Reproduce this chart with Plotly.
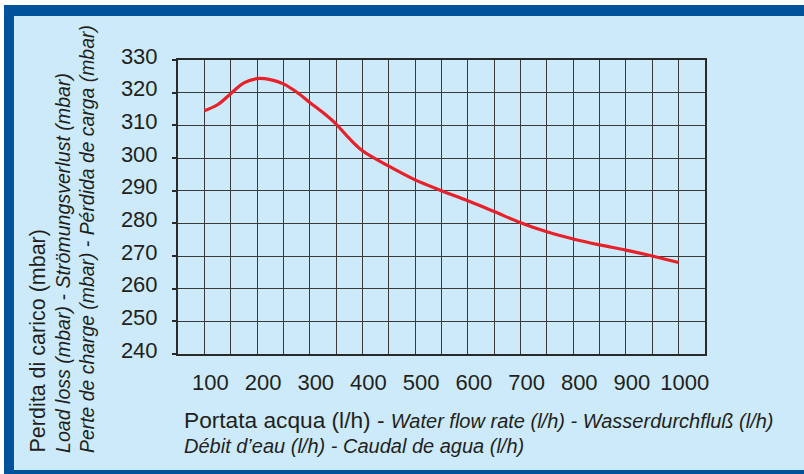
import plotly.graph_objects as go

# ---- data ----
flow = [100, 125, 150, 175, 200, 225, 250, 275, 300, 325, 350, 375, 400, 450, 500, 550, 600, 650,
        700, 750, 800, 850, 900, 950, 1000]
loss = [314.5, 316.3, 319.7, 323.0, 324.3, 324.0, 322.7, 320.2, 317.0, 313.9, 310.4, 306.0, 302.2,
        297.5, 293.3, 290.0, 286.9, 283.6, 280.2, 277.4, 275.2, 273.4, 271.8, 270.0, 268.0]
x_ticks = [100, 200, 300, 400, 500, 600, 700, 800, 900, 1000]
y_ticks = [240, 250, 260, 270, 280, 290, 300, 310, 320, 330]

W, H = 804, 474
L, R, T, B = 178, 99, 60, 120
PW, PH = W - L - R, H - T - B

def px(xp):
    return (xp - L) / PW

def py(yp):
    return 1 - (yp - T) / PH

FONT = "Liberation Sans, Arial, Helvetica, sans-serif"
TXT = "#231f20"
BLUE = "#00539a"
LIGHT = "#cceaf9"
GRID = "#3a3a3a"

fig = go.Figure()
fig.add_trace(go.Scatter(x=flow, y=loss, mode="lines",
                         line=dict(color="#e8202a", width=3.2, shape="spline", smoothing=1.0),
                         hoverinfo="skip"))

def rect(x0, x1, y0, y1, color):
    return dict(type="rect", xref="paper", yref="paper", x0=px(x0), x1=px(x1), y0=py(y1), y1=py(y0),
                fillcolor=color, line=dict(width=0), layer="below")

shapes = [
    rect(-10, 900, -10, 5, "white"),      # white strip on top
    rect(-10, 4, -10, 500, "white"),      # white strip on left
    rect(4, 900, 5, 16, BLUE),            # top band
    rect(4, 14, 5, 500, BLUE),            # left band
    rect(4, 900, 470, 500, BLUE),         # bottom band
]

annotations = [
    dict(text="Perdita di carico (mbar)", textangle=-90, xref="paper", yref="paper",
         x=px(37), y=py(455), xanchor="center", yanchor="bottom", showarrow=False,
         font=dict(family=FONT, size=21.5, color=TXT)),
    dict(text="<i>Load loss (mbar) - Strömungsverlust (mbar)</i>", textangle=-90, xref="paper", yref="paper",
         x=px(63), y=py(455), xanchor="center", yanchor="bottom", showarrow=False,
         font=dict(family=FONT, size=19.6, color=TXT)),
    dict(text="<i>Perte de charge (mbar) - Pérdida de carga (mbar)</i>", textangle=-90, xref="paper", yref="paper",
         x=px(87), y=py(455), xanchor="center", yanchor="bottom", showarrow=False,
         font=dict(family=FONT, size=19.4, color=TXT)),
    dict(text="Portata acqua (l/h) - <i><span style='font-size:20px'>Water flow rate (l/h) - Wasserdurchfluß (l/h)</span></i>",
         xref="paper", yref="paper", x=px(182), y=py(420), xanchor="left", yanchor="middle", showarrow=False,
         font=dict(family=FONT, size=22.7, color=TXT)),
    dict(text="<i>Débit d’eau (l/h) - Caudal de agua (l/h)</i>",
         xref="paper", yref="paper", x=px(182), y=py(446), xanchor="left", yanchor="middle", showarrow=False,
         font=dict(family=FONT, size=20, color=TXT)),
]

fig.update_layout(
    width=W, height=H,
    margin=dict(l=L, r=R, t=T, b=B, pad=0),
    paper_bgcolor=LIGHT,
    plot_bgcolor="rgba(0,0,0,0)",
    showlegend=False,
    shapes=shapes,
    annotations=annotations,
    font=dict(family=FONT, color=TXT),
    xaxis=dict(range=[50, 1050], tickvals=x_ticks, ticktext=[str(v) for v in x_ticks],
               showgrid=True, gridcolor=GRID, gridwidth=1,
               minor=dict(dtick=50, tick0=0, showgrid=True, gridcolor=GRID, gridwidth=1),
               showline=True, linecolor="#2a2a2a", linewidth=2, mirror=True,
               ticks="", zeroline=False, ticklabelshift=6, ticklabelstandoff=8,
               tickfont=dict(family=FONT, size=22, color=TXT), fixedrange=True),
    yaxis=dict(range=[240, 330], tickvals=y_ticks, ticktext=[str(v) for v in y_ticks],
               showgrid=True, gridcolor=GRID, gridwidth=1,
               showline=True, linecolor="#2a2a2a", linewidth=2, mirror=True,
               ticks="outside", ticklen=4, tickcolor="#2a2a2a", tickwidth=1.5,
               zeroline=False, ticklabelshift=-4, ticklabelstandoff=10,
               tickfont=dict(family=FONT, size=22, color=TXT), fixedrange=True),
)

fig.write_html("out.html", config=dict(displayModeBar=False),
               post_script="document.body.style.margin='0';document.body.style.overflow='hidden';")
